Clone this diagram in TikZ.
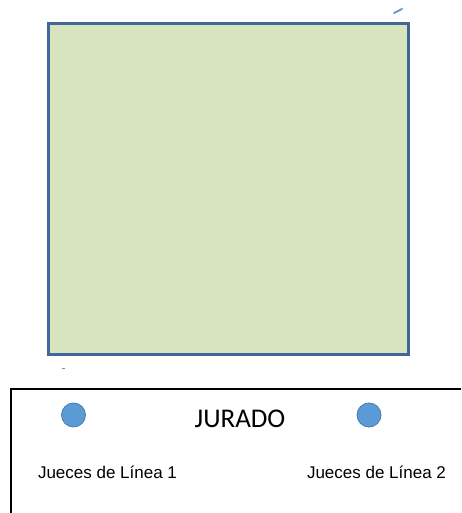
\documentclass[tikz,border=0pt]{standalone}
\usepackage{fontspec}
\setmainfont{Carlito}
\newfontfamily\arialfont{Liberation Sans}

\begin{document}
\begin{tikzpicture}[x=1pt,y=1pt,
	juez/.style={circle,fill=color2,draw=color2!80!black,line width=0.8pt,minimum size=24pt,inner sep=0pt},
	rotulo/.style={anchor=base,inner sep=0pt,font=\arialfont\fontsize{17}{20}\selectfont},
	titulo/.style={anchor=base,inner sep=0pt,font=\fontsize{27}{30}\selectfont}]
	\definecolor{color1}{HTML}{D7E4BD}
	\definecolor{color2}{HTML}{5B9BD5}
	\definecolor{color3}{HTML}{41679A}
	\useasboundingbox (0,0) rectangle (461,513);
	%% Cancha ------
	\draw[color3,fill=color1,line width=3pt] (48.5,158) rectangle (408.5,489.5);
	\draw[color2,line width=2pt,line cap=round] (394,500) -- (402,504);
	\draw[color2,line width=1pt] (62,144) -- (65,144);
	%% Mesa ---------
	\coordinate (esq) at (11,124);
	\coordinate (fin) at (461,124);
	\coordinate (base) at (11,0);
	\draw[black,line width=2pt] (fin) -- (esq) -- (base);
	\node[juez] (juez1) at (73.5,98) {};
	\node[juez] (juez2) at (369,98) {};
	\node[titulo] (jurado) at (240,85) {JURADO};
	\node[rotulo] (linea1) at (107.5,34) {Jueces de Línea 1};
	\node[rotulo] (linea2) at (376.5,34) {Jueces de Línea 2};
\end{tikzpicture}
\end{document}
